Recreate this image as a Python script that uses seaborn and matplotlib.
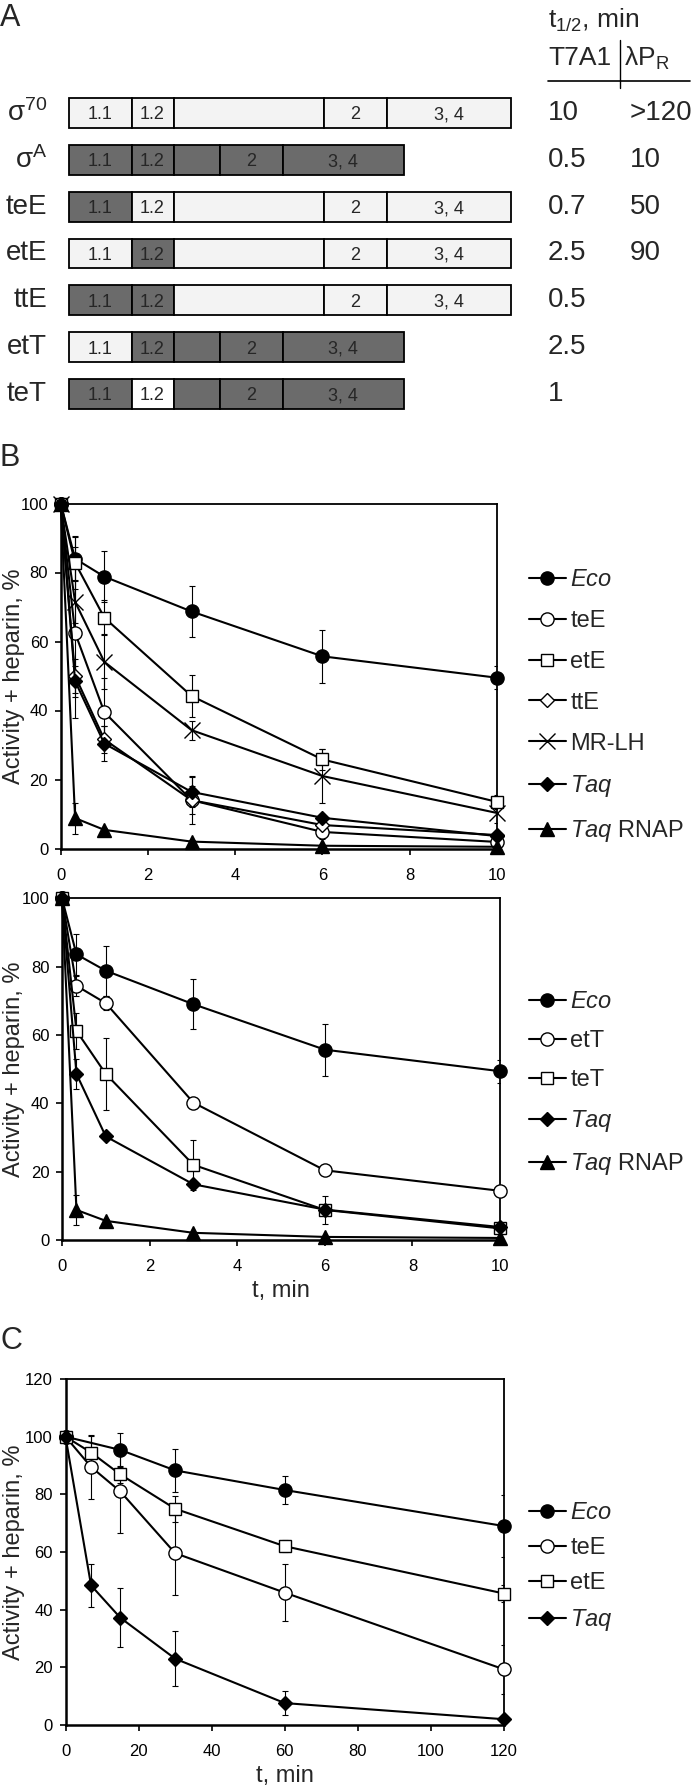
"""
Sigma chimera stability figure: domain maps (A), heparin challenge kinetics (B, C)
"""

import numpy as np
import matplotlib
matplotlib.use("Agg")
import matplotlib.pyplot as plt
import seaborn as sns
from matplotlib.lines import Line2D

# ---------------- panel A data ----------------
constructs = ["σ$^{70}$", "σ$^{\\rm A}$", "teE", "etE", "ttE", "etT", "teT"]
domain_labels = ["1.1", "1.2", "", "2", "3, 4"]
eco_widths = [63, 42, 150, 63, 124]   # sigma70 backbone
taq_widths = [63, 42, 46, 63, 121]    # sigmaA backbone
backbone = ["E", "T", "E", "E", "E", "T", "T"]
# 1 = Taq-derived region (dark), 0 = E. coli region (light)
taq_parts = [
    [0, 0, 0, 0, 0],
    [1, 1, 1, 1, 1],
    [1, 0, 0, 0, 0],
    [0, 1, 0, 0, 0],
    [1, 1, 0, 0, 0],
    [0, 1, 1, 1, 1],
    [1, 0, 1, 1, 1],
]
half_t7a1 = ["10", "0.5", "0.7", "2.5", "0.5", "2.5", "1"]
half_lpr = [">120", "10", "50", "90", "", "", ""]

# ---------------- panel B data (t, min) ----------------
t_b = [0, 0.33, 1, 3, 6, 10]

b1_names = ["$\\mathit{Eco}$", "teE", "etE", "ttE", "MR-LH", "$\\mathit{Taq}$", "$\\mathit{Taq}$ RNAP"]
b1_eco = [100, 84.0, 78.8, 68.7, 55.7, 49.5]
b1_eco_err = [0, 6.3, 7.3, 7.3, 7.6, 3.4]
b1_tee = [100, 62.5, 39.5, 14.0, 4.8, 1.9]
b1_tee_err = [0, 24.8, 10.0, 6.8, 2.0, 1.0]
b1_ete = [100, 82.8, 66.9, 44.2, 25.8, 13.5]
b1_ete_err = [0, 7.7, 5.0, 6.0, 3.0, 2.0]
b1_tte = [100, 50.0, 31.6, 14.0, 6.8, 3.9]
b1_tte_err = [0, 5.0, 4.0, 4.0, 1.0, 1.0]
b1_mrlh = [100, 71.5, 54.1, 34.3, 21.0, 10.3]
b1_mrlh_err = [0, 6.0, 8.0, 2.8, 7.8, 3.0]
b1_taq = [100, 48.5, 30.4, 16.4, 8.9, 3.6]
b1_taq_err = [0, 4.5, 5.0, 4.5, 1.0, 1.0]
b1_rnap = [100, 8.8, 5.4, 2.0, 0.8, 0.5]
b1_rnap_err = [0, 4.5, 0.5, 0.5, 0.3, 0.3]

b2_names = ["$\\mathit{Eco}$", "etT", "teT", "$\\mathit{Taq}$", "$\\mathit{Taq}$ RNAP"]
b2_eco = [100, 83.6, 78.8, 69.0, 55.7, 49.4]
b2_eco_err = [0, 6.0, 7.3, 7.3, 7.6, 3.4]
b2_ett = [100, 74.4, 69.3, 40.2, 20.4, 14.4]
b2_ett_err = [0, 3.0, 2.0, 1.5, 0.8, 1.0]
b2_tet = [100, 61.2, 48.6, 22.0, 8.8, 3.4]
b2_tet_err = [0, 5.3, 10.5, 7.3, 4.0, 1.0]
b2_taq = [100, 48.6, 30.3, 16.3, 8.9, 3.8]
b2_taq_err = [0, 4.5, 1.0, 1.0, 1.0, 0.5]
b2_rnap = [100, 8.8, 5.6, 2.1, 0.9, 0.6]
b2_rnap_err = [0, 4.5, 0.5, 0.3, 0.3, 0.3]

# ---------------- panel C data ----------------
t_c = [0, 7, 15, 30, 60, 120]
c_names = ["$\\mathit{Eco}$", "teE", "etE", "$\\mathit{Taq}$"]
c_eco = [100, np.nan, 95.4, 88.3, 81.5, 69.0]
c_eco_err = [0, np.nan, 5.8, 7.5, 4.9, 10.7]
c_tee = [100, 89.5, 81.0, 59.6, 45.9, 19.3]
c_tee_err = [0, 11.0, 14.5, 14.5, 10.0, 8.5]
c_ete = [100, 94.5, 86.9, 75.0, 62.0, 45.6]
c_ete_err = [0, 5.8, 3.0, 4.5, 2.0, 2.8]
c_taq = [100, 48.4, 37.2, 23.0, 7.6, 2.0]
c_taq_err = [0, 7.4, 10.2, 9.6, 4.1, 1.0]

# ---------------- styles ----------------
MARKERS = {
    "eco": dict(marker="o", mfc="black", ms=9.5),
    "open_o": dict(marker="o", mfc="white", ms=9.5),
    "open_s": dict(marker="s", mfc="white", ms=9),
    "open_d": dict(marker="D", mfc="white", ms=7.5),
    "x": dict(marker="x", mfc="none", ms=11, mew=1.0),
    "taq": dict(marker="D", mfc="black", ms=7.5),
    "rnap": dict(marker="^", mfc="black", ms=9.5),
}

sns.set_theme(style="white")
plt.rcParams["font.family"] = ["Liberation Sans", "DejaVu Sans"]
plt.rcParams.update({
    "mathtext.fontset": "custom",
    "mathtext.rm": "Liberation Sans",
    "mathtext.it": "Liberation Sans:italic",
    "mathtext.bf": "Liberation Sans:bold",
    "axes.edgecolor": "black",
    "xtick.color": "black",
    "ytick.color": "black",
})

W, H = 693, 1787
fig = plt.figure(figsize=(W / 100, H / 100), dpi=100)
fig.patch.set_facecolor("white")


def fy(py):
    """figure-pixel y (from top) -> figure fraction"""
    return 1 - py / H


def axes_px(left, top, right, bottom):
    return fig.add_axes([left / W, fy(bottom), (right - left) / W, (bottom - top) / H])


# ---------------- panel A ----------------
ax_a = axes_px(0, 89.6, W, 417.4)
ax_a.set_xlim(0, W)
ax_a.set_ylim(6.5, -0.5)
ax_a.axis("off")

dark, light = "#6b6b6b", "#f3f3f3"
for i, name in enumerate(constructs):
    widths = eco_widths if backbone[i] == "E" else taq_widths
    lefts = 68.5 + np.concatenate([[0], np.cumsum(widths)[:-1]])
    colors = [dark if p else light for p in taq_parts[i]]
    if i == 6:
        colors[1] = "white"
    ax_a.barh(i, widths, left=lefts, height=0.64, color=colors,
              edgecolor="black", linewidth=1.3)
    for lab, l, w in zip(domain_labels, lefts, widths):
        if lab:
            ax_a.text(l + w / 2, i + 0.04, lab, ha="center", va="center", fontsize=13)
    ax_a.text(47, i, name, ha="right", va="center", fontsize=20)
    ax_a.text(548, i, half_t7a1[i], ha="left", va="center", fontsize=20)
    ax_a.text(630, i, half_lpr[i], ha="left", va="center", fontsize=20)

fig.text(548 / W, fy(20), "t$_{1/2}$, min", ha="left", va="center", fontsize=19)
fig.text(548 / W, fy(58), "T7A1", ha="left", va="center", fontsize=19)
fig.text(624 / W, fy(58), "λP$_{\\rm R}$", ha="left", va="center", fontsize=19)
fig.add_artist(Line2D([548 / W, 690 / W], [fy(81), fy(81)], color="black", lw=1.2))
fig.add_artist(Line2D([619.5 / W, 619.5 / W], [fy(40), fy(88)], color="black", lw=1.0))

for letter, py in [("A", 18), ("B", 458), ("C", 1341)]:
    fig.text(0, fy(py), letter, ha="left", va="center", fontsize=22)


# ---------------- kinetics panels ----------------
def draw_series(ax, t, y, err, style, label):
    ax.errorbar(t, y, yerr=err, fmt="none", ecolor="black", elinewidth=0.8,
                capsize=2.5, capthick=0.8, zorder=2)
    kw = dict(MARKERS[style])
    sns.lineplot(x=t, y=y, ax=ax, color="black", linewidth=1.5, label=label,
                 marker=kw.pop("marker"), markerfacecolor=kw.pop("mfc"),
                 markeredgecolor="black", markersize=kw.pop("ms"),
                 markeredgewidth=kw.pop("mew", 1.0), clip_on=False, zorder=3,
                 legend=False)


def style_axes(ax, xmax, xstep, ymax, ystep, xlabel):
    ax.set_xlim(0, xmax)
    ax.set_ylim(0, ymax)
    ax.set_xticks(np.arange(0, xmax + 0.1, xstep))
    ax.set_yticks(np.arange(0, ymax + 0.1, ystep))
    for s in ax.spines.values():
        s.set_visible(True)
        s.set_color("black")
        s.set_linewidth(1.3)
    ax.spines["left"].set_linewidth(1.8)
    ax.spines["bottom"].set_linewidth(1.8)
    ax.tick_params(axis="both", direction="out", length=4, width=1.2,
                   labelsize=12, bottom=True, left=True, top=False, right=False)
    ax.tick_params(axis="x", pad=10)
    ax.tick_params(axis="y", pad=5)
    ax.set_ylabel("Activity + heparin, %", fontsize=17)
    ax.set_xlabel(xlabel, fontsize=17, labelpad=4)
    ax.set_facecolor("white")


def add_legend(ax, left_px, top_px, spacing):
    ax.legend(loc="upper left", bbox_to_anchor=(left_px / W, fy(top_px)),
              bbox_transform=fig.transFigure, frameon=False, fontsize=17,
              handlelength=1.55, handletextpad=0.2, labelspacing=spacing,
              borderpad=0, borderaxespad=0, numpoints=1)


# B top
ax_b1 = axes_px(60.7, 503.5, 497, 848.5)
b1_series = [
    (b1_eco, b1_eco_err, "eco"), (b1_tee, b1_tee_err, "open_o"),
    (b1_ete, b1_ete_err, "open_s"), (b1_tte, b1_tte_err, "open_d"),
    (b1_mrlh, b1_mrlh_err, "x"), (b1_taq, b1_taq_err, "taq"),
    (b1_rnap, b1_rnap_err, "rnap"),
]
for name, (y, e, st) in zip(b1_names, b1_series):
    draw_series(ax_b1, t_b, y, e, st, name)
style_axes(ax_b1, 10, 2, 100, 20, "")
add_legend(ax_b1, 529, 569, 0.8)

# B bottom
ax_b2 = axes_px(62, 898.3, 500, 1240)
b2_series = [
    (b2_eco, b2_eco_err, "eco"), (b2_ett, b2_ett_err, "open_o"),
    (b2_tet, b2_tet_err, "open_s"), (b2_taq, b2_taq_err, "taq"),
    (b2_rnap, b2_rnap_err, "rnap"),
]
for name, (y, e, st) in zip(b2_names, b2_series):
    draw_series(ax_b2, t_b, y, e, st, name)
style_axes(ax_b2, 10, 2, 100, 20, "t, min")
add_legend(ax_b2, 529, 991, 0.72)

# C
ax_c = axes_px(65.5, 1379, 504, 1725)
c_series = [
    (c_eco, c_eco_err, "eco"), (c_tee, c_tee_err, "open_o"),
    (c_ete, c_ete_err, "open_s"), (c_taq, c_taq_err, "taq"),
]
for name, (y, e, st) in zip(c_names, c_series):
    draw_series(ax_c, t_c, y, e, st, name)
style_axes(ax_c, 120, 20, 120, 20, "t, min")
add_legend(ax_c, 529, 1502, 0.55)

for ax, left in [(ax_b1, 60.7), (ax_b2, 62), (ax_c, 65.5)]:
    width = ax.get_position().width * W
    ax.yaxis.set_label_coords((25 - left) / width, 0.5)

fig.savefig("out.png", dpi=100, facecolor="white")
